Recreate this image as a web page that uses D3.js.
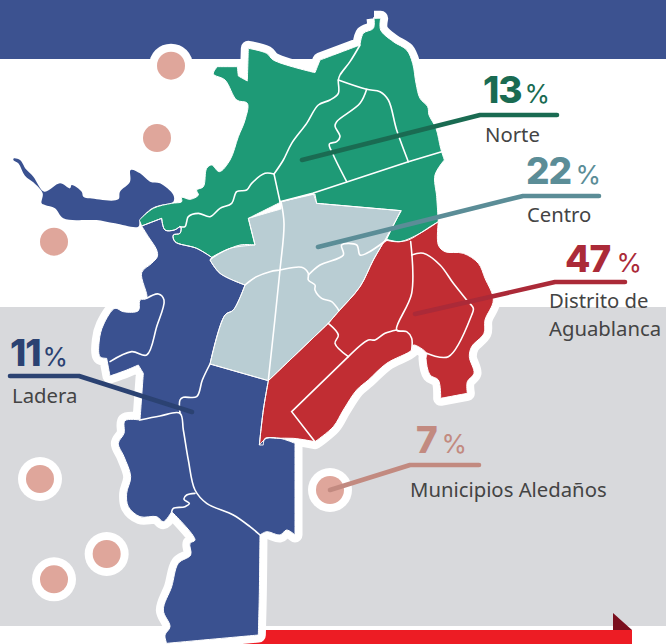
<!DOCTYPE html>
<html><head><meta charset="utf-8">
<script src="https://cdn.jsdelivr.net/npm/d3@7"></script>
<style>html,body{margin:0;padding:0;background:#fff}svg{display:block}</style>
</head><body><svg id="c" width="666" height="644"></svg>
<script>
// Chart values
const zones = ["Norte","Centro","Distrito de|Aguablanca","Ladera","Municipios Aledaños"];
const shares = [13,22,47,11,7];
const zoneColors = ["#1e9a76","#b9cdd3","#c12d33","#3a5190","#dfa69b"];
const leaderColors = ["#1a6b52","#5b8d97","#ab2a38","#2b4272","#c28a80"];
const valueAnchors = [[483,103],[526,184],[565,272],[10,366],[416,453]];
const percentAnchors = [[524.5,103],[575.5,184],[616.5,272],[42.5,366],[441.5,453]];
const nameAnchors = [[485,142],[527,222],[549,308],[12,403],[410,497]];
const nameLineGap = 28;
const leaders = [
 [[302,160],[480,115],[557,115]],
 [[318,247],[523,196],[599,196]],
 [[415,314],[555,282],[625,282]],
 [[10,376],[79,376],[192,412]],
 [[330,490],[410,465],[479,465]]
];
// Map geometry, in map units (3 per pixel)
const norteRing = [[1122,55],[1142,55],[1142,90],[1180,125],[1220,150],[1238,190],[1248,250],[1260,295],[1283,320],[1287,345],[1308,385],[1322,445],[1333,480],[1305,525],[1310,590],[1315,665],[1290,680],[1260,700],[1225,720],[1195,725],[1160,718],[1202,632],[950,610],[940,580],[845,605],[745,655],[765,735],[690,745],[635,772],[590,745],[525,725],[520,705],[540,700],[542,680],[523,690],[495,690],[485,655],[425,678],[418,660],[460,625],[515,610],[545,605],[545,592],[570,598],[595,585],[590,570],[610,560],[620,505],[635,495],[658,515],[690,480],[715,410],[735,360],[742,310],[710,300],[675,240],[640,222],[652,200],[712,200],[715,228],[742,243],[745,145],[800,160],[820,180],[945,218],[960,180],[1080,135],[1090,100],[1120,85]];
const centroRing = [[843,605],[945,582],[950,610],[1204,632],[1155,720],[1120,780],[1080,860],[1015,935],[985,970],[805,1142],[630,1092],[675,945],[700,930],[735,855],[660,820],[630,780],[660,760],[720,735],[765,735],[745,655],[843,627]];
const distritoRing = [[1155,720],[1200,725],[1260,700],[1315,665],[1315,735],[1335,755],[1390,760],[1435,790],[1455,835],[1480,900],[1455,960],[1452,1000],[1415,1040],[1408,1070],[1422,1120],[1402,1145],[1402,1180],[1322,1195],[1315,1140],[1290,1125],[1278,1075],[1280,1060],[1240,1035],[1235,1050],[1160,1090],[1105,1140],[1070,1170],[1030,1230],[1000,1280],[945,1325],[880,1315],[830,1315],[795,1315],[790,1335],[778,1335],[790,1230],[805,1142],[985,970],[1015,935],[1080,860],[1120,780]];
const laderaMainRing = [[425,678],[485,655],[495,690],[523,690],[542,680],[540,700],[520,705],[525,725],[590,745],[635,772],[630,780],[660,820],[735,855],[700,930],[675,945],[630,1092],[805,1142],[790,1230],[778,1335],[800,1315],[840,1315],[885,1330],[885,1605],[860,1590],[840,1605],[800,1595],[780,1605],[778,1780],[775,1905],[720,1910],[500,1930],[495,1905],[510,1880],[490,1830],[515,1760],[535,1690],[572,1665],[570,1630],[585,1620],[515,1535],[490,1565],[470,1550],[420,1550],[385,1520],[380,1480],[392,1430],[372,1370],[355,1330],[372,1300],[375,1262],[420,1260],[430,1120],[415,1095],[380,1110],[330,1128],[320,1075],[300,1070],[298,1020],[310,975],[345,925],[370,935],[415,932],[420,900],[440,895],[425,818],[455,790],[472,770],[470,750],[445,710]];
const laderaLakeRing = [[42,475],[60,480],[78,508],[100,530],[133,575],[180,550],[210,565],[215,555],[245,575],[250,590],[270,595],[355,598],[360,575],[390,545],[392,510],[420,520],[450,545],[480,550],[520,585],[520,605],[480,615],[455,625],[420,660],[415,680],[345,670],[290,660],[265,660],[190,655],[165,625],[135,615],[125,610],[128,580],[100,547],[75,527],[55,490],[40,480]];
const norteLines = [
 [[1080,135],[1050,185],[1020,225],[1015,240],[1015,280],[990,300],[955,315],[920,370],[875,430],[850,480],[822,522],[795,520],[755,550],[740,570],[710,575],[695,610],[660,625],[630,650],[595,640],[565,650],[560,665],[555,680],[540,680]],
 [[822,522],[840,605]],
 [[1015,240],[1100,268],[1140,275],[1165,300],[1190,390],[1225,485]],
 [[1100,268],[1080,310],[1010,365],[1005,378],[1020,410],[1010,425],[988,432],[1000,465],[1040,545]],
 [[840,605],[938,580],[1225,485],[1325,455]]
];
const centroLines = [
 [[843,605],[852,670],[840,810],[805,1140]],
 [[735,855],[770,830],[810,815],[840,810],[905,802],[925,820],[925,840],[945,855],[945,870],[965,895],[995,905],[1017,932]],
 [[925,825],[960,795],[1030,765],[1025,735],[1070,735],[1080,765],[1100,760],[1160,720]]
];
const distritoLines = [
 [[1232,725],[1235,880],[1190,990],[1220,995],[1235,1015],[1235,1050]],
 [[1190,990],[1155,1000],[1125,1020],[1105,1020],[1045,1070],[875,1235],[945,1325]],
 [[985,970],[1015,1005],[1005,1030],[1045,1070]],
 [[1235,765],[1270,760],[1320,795],[1360,850],[1400,900],[1420,925],[1415,945],[1345,1070],[1280,1060]]
];
const laderaLines = [
 [[420,1260],[480,1248],[540,1240],[550,1290],[565,1380],[585,1470],[620,1510],[700,1545],[750,1580],[780,1605]],
 [[630,1092],[607,1140],[590,1190],[550,1192],[540,1200],[540,1240]],
 [[585,1480],[560,1485],[552,1498],[568,1510],[555,1520],[520,1525],[515,1535]],
 [[440,895],[475,882],[492,900],[470,980],[440,1065],[395,1055],[330,1085]]
];
// Map vertices that stay sharp rather than being rounded
const sharpCorners = [[1122,55],[1142,55],[712,200],[652,200],[715,228],[742,243],[745,145],[945,218],[960,180],[1080,135],[1333,480],[1160,718],[1202,632],[1204,632],[950,610],[940,580],[945,582],[845,605],[843,605],[843,627],[745,655],[765,735],[425,678],[418,660],[485,655],[1155,720],[1315,665],[1402,1180],[1322,1195],[778,1335],[790,1335],[805,1142],[805,1140],[985,970],[630,1092],[735,855],[630,780],[635,772],[885,1330],[885,1605],[780,1605],[775,1905],[500,1930],[515,1535],[420,1260],[330,1128],[320,1075],[415,1095],[430,1120],[938,580],[1225,485],[875,1235],[945,1325],[1045,1070],[840,605],[822,522]];
// Municipalities (map units)
const municipioPoints = [[513,197],[471,414],[162,725],[120,1437],[320,1662],[162,1738],[990,1470]];

const svg = d3.select("#c");
const W=666,H=644;
const x = d3.scaleLinear().domain([0,W*3]).range([0,W]);
const y = d3.scaleLinear().domain([0,H*3]).range([0,H]);
const sharpKeys = new Set(sharpCorners.map(String));
const withCorners = pts => pts.flatMap(p => sharpKeys.has(String(p)) ? [p,p] : [p]);
const ringGen = d3.line().x(d=>x(d[0])).y(d=>y(d[1])).curve(d3.curveCatmullRomClosed.alpha(.5));
const pathGen = d3.line().x(d=>x(d[0])).y(d=>y(d[1])).curve(d3.curveCatmullRom.alpha(.5));
const ring = pts => ringGen(withCorners(pts));
const path = pts => pathGen(withCorners(pts));
const straight = d3.line();

// Backdrop
svg.append("rect").attr("width",W).attr("height",H).attr("fill","#fff");
svg.append("rect").attr("width",W).attr("height",59).attr("fill","#3c5290");
svg.append("rect").attr("y",307).attr("width",W).attr("height",319).attr("fill","#d8d9dc");
svg.append("rect").attr("x",240).attr("y",630).attr("width",392).attr("height",14).attr("fill","#ed1c24");
svg.append("path").attr("d",straight([[613,613],[632,630],[613,630]])).attr("fill","#7a0f1e");

// Municipalities
svg.selectAll("circle.halo").data(municipioPoints).join("circle").attr("class","halo")
 .attr("cx",d=>x(d[0])).attr("cy",d=>y(d[1])).attr("r",22).attr("fill","#fff");
svg.selectAll("circle.dot").data(municipioPoints).join("circle").attr("class","dot")
 .attr("cx",d=>x(d[0])).attr("cy",d=>y(d[1])).attr("r",14).attr("fill",zoneColors[4]);

// Map
const regions = [
 {r:norteRing,c:zoneColors[0]},{r:centroRing,c:zoneColors[1]},{r:distritoRing,c:zoneColors[2]},
 {r:laderaMainRing,c:zoneColors[3]},{r:laderaLakeRing,c:zoneColors[3],noHalo:true}
];
const mapG = svg.append("g");
mapG.selectAll("path.halo").data(regions.filter(d=>!d.noHalo)).join("path").attr("class","halo")
 .attr("d",d=>ring(d.r)).attr("fill","#fff").attr("stroke","#fff").attr("stroke-width",15).attr("stroke-linejoin","round");
mapG.selectAll("path.area").data(regions).join("path").attr("class","area")
 .attr("d",d=>ring(d.r)).attr("fill",d=>d.c);
const allLines = [...norteLines,...centroLines,...distritoLines,...laderaLines];
mapG.selectAll("path.border").data(allLines).join("path").attr("class","border")
 .attr("d",path).attr("fill","none").attr("stroke","#fff").attr("stroke-width",1.6).attr("stroke-linecap","round");
mapG.selectAll("path.edge").data(regions.slice(0,4)).join("path").attr("class","edge")
 .attr("d",d=>ring(d.r)).attr("fill","none").attr("stroke","#fff").attr("stroke-width",1);

// Leaders and labels
svg.selectAll("path.leader").data(leaders).join("path").attr("class","leader")
 .attr("d",straight).attr("fill","none").attr("stroke",(d,i)=>leaderColors[i]).attr("stroke-width",4.6)
 .attr("stroke-linecap","round").attr("stroke-linejoin","round");
svg.selectAll("text.val").data(shares).join("text").attr("class","val")
 .attr("x",(d,i)=>valueAnchors[i][0]).attr("y",(d,i)=>valueAnchors[i][1])
 .attr("font-family","Inter").attr("font-weight",800).attr("font-size",37).attr("letter-spacing",-1)
 .attr("fill",(d,i)=>leaderColors[i]).text(d=>d);
svg.selectAll("text.pct").data(shares).join("text").attr("class","pct")
 .attr("x",(d,i)=>percentAnchors[i][0]).attr("y",(d,i)=>percentAnchors[i][1])
 .attr("font-family","Inter").attr("font-weight",400).attr("font-size",26)
 .attr("fill",(d,i)=>leaderColors[i]).text("%");
const names = svg.selectAll("text.name").data(zones).join("text").attr("class","name")
 .attr("font-family","'Noto Sans'").attr("font-size",20.3).attr("fill","#444");
names.each(function(d,i){
 d3.select(this).selectAll("tspan").data(d.split("|")).join("tspan")
  .attr("x",nameAnchors[i][0]).attr("y",(t,j)=>nameAnchors[i][1]+j*nameLineGap).text(t=>t);
});
</script></body></html>
